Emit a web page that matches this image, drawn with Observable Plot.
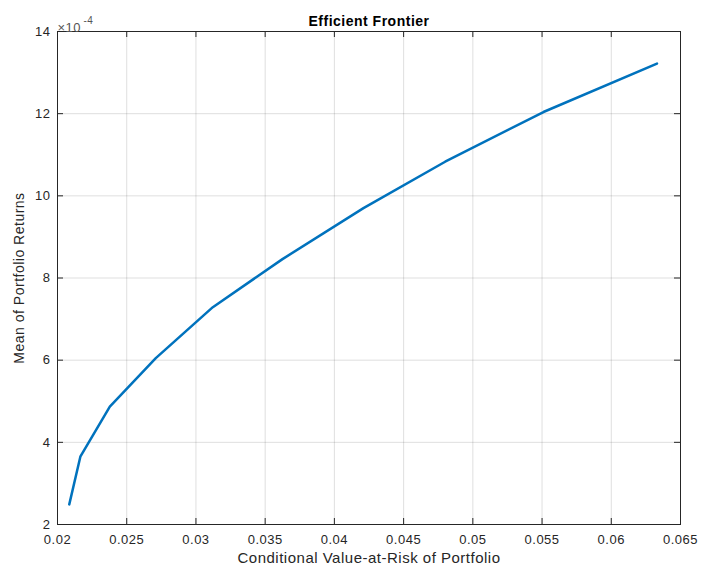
<!DOCTYPE html>
<html>
<head>
<meta charset="utf-8">
<script src="https://cdn.jsdelivr.net/npm/d3@7"></script>
<script src="https://cdn.jsdelivr.net/npm/@observablehq/plot@0.6"></script>
<style>
  body { margin: 0; background: #fff; }
  #chart svg { display: block; }
  #chart svg text { letter-spacing: 0.5px; }
</style>
</head>
<body>
<div id="chart"></div>
<script>
// Data
const cvar = [0.02085, 0.02165, 0.02378, 0.0271, 0.03122, 0.03625, 0.0421, 0.048, 0.0551, 0.0633];
const meanReturn = [2.49, 3.65, 4.87, 6.05, 7.29, 8.46, 9.70, 10.83, 12.04, 13.22]; // ×10^-4
const xTicks = [0.02, 0.025, 0.03, 0.035, 0.04, 0.045, 0.05, 0.055, 0.06, 0.065];
const xTickLabels = ["0.02", "0.025", "0.03", "0.035", "0.04", "0.045", "0.05", "0.055", "0.06", "0.065"];
const yTicks = [2, 4, 6, 8, 10, 12, 14];
const titleText = "Efficient Frontier";
const xLabel = "Conditional Value-at-Risk of Portfolio";
const yLabel = "Mean of Portfolio Returns";

const data = cvar.map((x, i) => ({x, y: meanReturn[i]}));

const W = 702, H = 578;
const mL = 57, mR = 22, mT = 31, mB = 54;
const innerH = H - mT - mB, innerW = W - mL - mR;
const tickLen = 6;
const axisColor = "#262626";
const font = "Liberation Sans, Arial, Helvetica, sans-serif";

const chart = Plot.plot({
  width: W,
  height: H,
  marginLeft: mL, marginRight: mR, marginTop: mT, marginBottom: mB,
  style: {fontFamily: font, fontSize: "13px", color: axisColor, background: "#fff"},
  x: {domain: [0.02, 0.065]},
  y: {domain: [2, 14]},
  marks: [
    Plot.gridX(xTicks, {stroke: "#262626", strokeOpacity: 0.15, strokeWidth: 1}),
    Plot.gridY(yTicks, {stroke: "#262626", strokeOpacity: 0.15, strokeWidth: 1}),
    Plot.frame({stroke: axisColor, strokeWidth: 1}),
    // inward ticks on all four sides
    Plot.tickX(xTicks, {x: d => d, insetTop: innerH - tickLen, stroke: axisColor}),
    Plot.tickX(xTicks, {x: d => d, insetBottom: innerH - tickLen, stroke: axisColor}),
    Plot.tickY(yTicks, {y: d => d, insetRight: innerW - tickLen, stroke: axisColor}),
    Plot.tickY(yTicks, {y: d => d, insetLeft: innerW - tickLen, stroke: axisColor}),
    Plot.axisX(xTicks, {tickSize: 0, tickPadding: 10, tickFormat: (d, i) => xTickLabels[i], label: null, fill: axisColor, fontSize: 13}),
    Plot.axisY(yTicks, {tickSize: 0, tickPadding: 7, label: null, fill: axisColor, fontSize: 13}),
    Plot.line(data, {x: "x", y: "y", stroke: "#0072BD", strokeWidth: 2.5}),
    Plot.text([titleText], {frameAnchor: "top", dy: -15, fontWeight: "bold", fontSize: 14, fill: "#000"}),
    Plot.text([xLabel], {frameAnchor: "bottom", dy: 38, fontSize: 15, fill: axisColor}),
    Plot.text([yLabel], {frameAnchor: "left", textAnchor: "middle", dx: -38, rotate: -90, fontSize: 14, fill: axisColor}),
    Plot.text(["×10"], {frameAnchor: "top-left", dx: 0, dy: -9, textAnchor: "start", fontSize: 13, fill: "#555"}),
    Plot.text(["-4"], {frameAnchor: "top-left", dx: 26, dy: -15, textAnchor: "start", fontSize: 10, fill: "#555"})
  ]
});
document.getElementById("chart").appendChild(chart);
</script>
</body>
</html>
